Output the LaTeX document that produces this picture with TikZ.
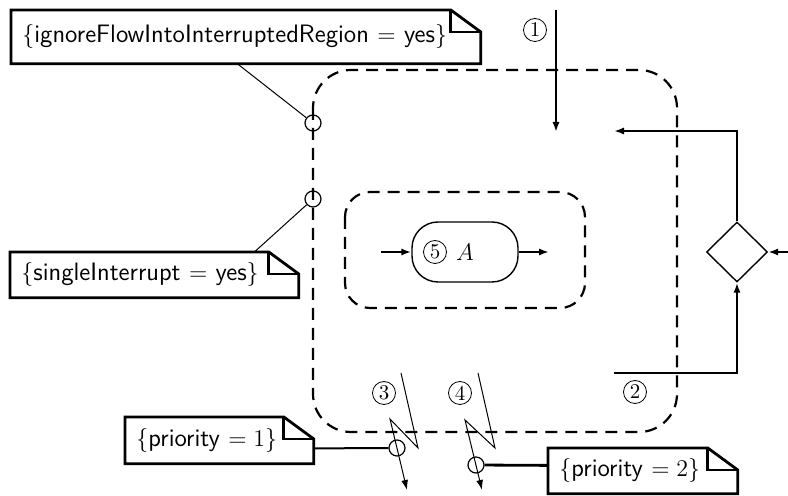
\documentclass[tikz,border=0pt]{standalone}
\usetikzlibrary{shapes.geometric,arrows.meta}
\newcommand\notefont{\fontsize{12.6}{15}\selectfont\sffamily}
\newcommand\drawnote[1]{%
  \draw[notebox] (#1.south west) -- (#1.north west) -- ([xshift=-15pt]#1.north east)
     -- ([yshift=-11pt]#1.north east) -- (#1.south east) -- cycle;
  \draw[notebox] ([xshift=-15pt]#1.north east) |- ([yshift=-11pt]#1.north east);}
\tikzset{
  note/.style={anchor=north west, inner xsep=5.5pt, inner ysep=0pt, align=left, font=\notefont},
  notebox/.style={line width=1.4pt, line join=miter},
  region/.style={line width=1.1pt, dash pattern=on 6pt off 4pt},
  flow/.style={line width=1.25pt, -{Latex[length=5pt,width=3.6pt]}},
  thinline/.style={line width=0.5pt},
  bolt/.style={line width=0.5pt, -{Latex[length=5pt,width=3.4pt]}},
  intc/.style={circle, draw, line width=0.6pt, minimum size=8pt, inner sep=0pt},
  numc/.style={circle, draw, line width=0.4pt, minimum size=11.5pt, inner sep=0pt, font=\fontsize{10.5}{12}\selectfont},
  actbox/.style={draw, line width=0.7pt, rounded corners=13pt, minimum width=53pt, minimum height=30pt, inner sep=0pt},
  decbox/.style={diamond, draw, line width=0.7pt, minimum width=30.5pt, minimum height=30pt, inner sep=0pt},
}
\begin{document}
\begin{tikzpicture}[x=0.5pt,y=-0.5pt]
\useasboundingbox (0,0) rectangle (788,496);

% regions
\draw[region, rounded corners=19pt] (313,70) rectangle (677,432);
\draw[region, rounded corners=12.5pt] (345,192) rectangle (585,308);

% action
\node[actbox] (act) at (465,252) {};
\node[numc] (l5) at (435,252) {5};
\node[font=\fontsize{12.5}{14}\selectfont] (lA) at (465,252) {$A$};
\coordinate (ain) at (381,252);
\coordinate (aout) at (549,252);
\draw[flow] (ain) -- (act.west);
\draw[flow] (act.east) -- (aout);

% arrow 1
\coordinate (t1) at (556,10);
\coordinate (t1e) at (556,132);
\draw[flow] (t1) -- (t1e);
\node[numc] (l1) at (535,30) {1};

% decision
\node[decbox] (dec) at (737,252) {};
\coordinate (r1) at (788,252);
\coordinate (e1) at (614,131);
\coordinate (s2) at (614,373);
\draw[flow] (r1) -- (dec.east);
\draw[flow] (dec.north) |- (e1);
\draw[flow] (s2) -| (dec.south);
\node[numc] (l2) at (635,392) {2};

% interrupt circles
\node[intc] (c1) at (313,123) {};
\node[intc] (c2) at (313,199) {};
\node[intc] (c3) at (397,448) {};
\node[intc] (c4) at (476,465) {};

% lightning edges
\coordinate (a1) at (401,373);
\coordinate (a2) at (418,448);
\coordinate (a3) at (390,419);
\coordinate (a4) at (407,490);
\draw[bolt, line join=miter] (a1) -- (a2) -- (a3) -- (a4);
\coordinate (b1) at (478,373);
\coordinate (b2) at (495,448);
\coordinate (b3) at (465,420);
\coordinate (b4) at (482,490);
\draw[bolt, line join=miter] (b1) -- (b2) -- (b3) -- (b4);
\node[numc] (l3) at (384,393) {3};
\node[numc] (l4) at (460,393) {4};

% notes
\node[note, text width=223.5pt, minimum height=26.5pt] (n1) at (11,10) {$\{$ignoreFlowIntoInterruptedRegion $=$ yes$\}$};
\drawnote{n1}
\node[note, text width=133pt, minimum height=22.5pt] (n2) at (10,252) {$\{$singleInterrupt $=$ yes$\}$};
\drawnote{n2}
\node[note, text width=83pt, minimum height=23pt] (p1) at (125,417) {$\{$priority $= 1\}$};
\drawnote{p1}
\node[note, text width=83.5pt, minimum height=22.5pt] (p2) at (548,448) {$\{$priority $= 2\}$};
\drawnote{p2}

\draw[thinline] ([xshift=-4.25pt]n1.south) -- (c1);
\draw[thinline] ([xshift=50pt]n2.north) -- (c2);
\draw[line width=1pt] ([yshift=-4pt]p1.east) -- (c3);
\draw[line width=1.4pt] (c4) -- ([yshift=2.75pt]p2.west);
\end{tikzpicture}
\end{document}
